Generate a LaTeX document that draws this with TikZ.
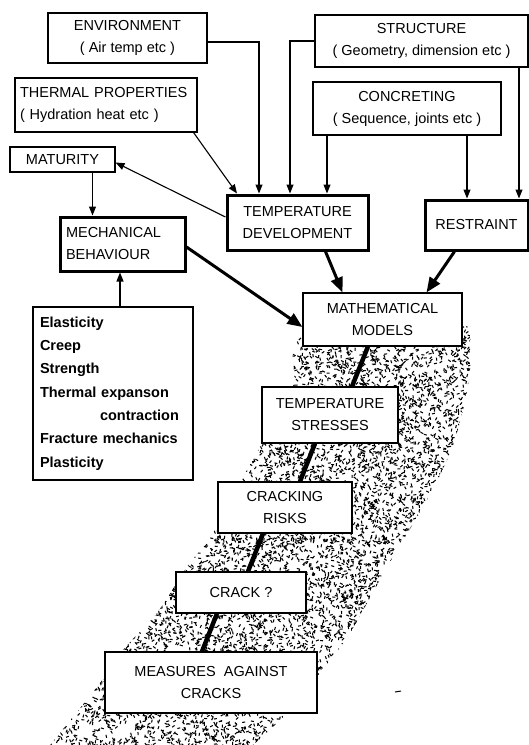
\documentclass[tikz,border=0pt]{standalone}
\usepackage{fontspec}
\setmainfont{Liberation Sans}
\usetikzlibrary{arrows.meta}
\newcommand\boxfont{\fontsize{14.5}{22}\selectfont}
\newcommand\listfont{\fontsize{14.5}{23.3}\selectfont\bfseries}
\tikzset{
  box/.style={draw, line width=1.1pt, fill=white, inner sep=0pt, align=center, font=\boxfont},
  lbox/.style={box, align=left},
  tbox/.style={box, line width=3pt},
  ar/.style={-{Triangle[length=9pt,width=7pt]}, line width=1.1pt},
  bar/.style={-{Triangle[length=15pt,width=12pt]}, line width=3pt},
  flow/.style={line width=4.5pt},
  dot/.style={line width=1.05pt}
}
\begin{document}
\begin{tikzpicture}[x=1pt,y=-1pt]
\useasboundingbox (0,0) rectangle (529,745);
% stippled band
\begin{scope}
\clip plot[smooth] coordinates {(470,326) (440,328) (303,336) (293,385) (260,447) (243,477) (213,533) (187,567) (157,613) (123,650) (97,687) (50,745)}
  -- (253,745) -- plot[smooth] coordinates {(253,745) (287,713) (320,673) (350,633) (387,567) (427,500) (450,453) (463,410) (470,370) (470,326)} -- cycle;
\pgfmathsetseed{11}
\foreach \i in {1,...,4200}{
  \pgfmathsetmacro\px{200+275*rnd}
  \pgfmathsetmacro\py{322+220*rnd}
  \pgfmathsetmacro\an{360*rnd}
  \draw[dot] (\px,\py) -- ++(\an:3pt);
}
\foreach \i in {1,...,5100}{
  \pgfmathsetmacro\px{45+355*rnd}
  \pgfmathsetmacro\py{538+210*rnd}
  \pgfmathsetmacro\an{360*rnd}
  \draw[dot] (\px,\py) -- ++(\an:3pt);
}
\end{scope}
% boxes
\node[box, minimum width=159pt, minimum height=50pt] (env) at (127.5,38) {ENVIRONMENT\\( Air temp etc )};
\node[lbox, minimum width=182pt, minimum height=54pt, text width=172pt] (therm) at (106,105) {THERMAL PROPERTIES\\( Hydration heat etc )};
\node[box, minimum width=105pt, minimum height=25pt] (mat) at (62.5,159.5) {MATURITY};
\node[box, minimum width=213pt, minimum height=52pt] (str) at (421.5,41) {STRUCTURE\\( Geometry, dimension etc )};
\node[box, minimum width=188pt, minimum height=53pt] (conc) at (407,108.5) {CONCRETING\\( Sequence, joints etc )};
\node[tbox, minimum width=141pt, minimum height=55pt] (td) at (297.5,222.5) {TEMPERATURE\\DEVELOPMENT};
\node[tbox, minimum width=103pt, minimum height=50pt] (res) at (476.5,225) {RESTRAINT};
\node[tbox, align=left, minimum width=125pt, minimum height=54pt, text width=113pt] (mech) at (122.5,244) {MECHANICAL\\BEHAVIOUR};
\node[box, align=left, font=\listfont, minimum width=160pt, minimum height=173pt, text width=146pt] (props) at (113,393.5)
  {Elasticity\\Creep\\Strength\\Thermal expanson\\\hspace*{60pt}contraction\\Fracture mechanics\\Plasticity};
\node[box, minimum width=159pt, minimum height=53pt] (mm) at (382.5,319.5) {MATHEMATICAL\\MODELS};
\node[box, minimum width=136pt, minimum height=56pt] (ts) at (330,415) {TEMPERATURE\\STRESSES};
\node[box, minimum width=134pt, minimum height=51pt] (cr) at (285,507.5) {CRACKING\\RISKS};
\node[box, minimum width=130pt, minimum height=41pt] (crack) at (241,592.5) {CRACK ?};
\node[box, minimum width=212pt, minimum height=61pt] (meas) at (211,682.5) {MEASURES\ \ AGAINST\\CRACKS};
% thin arrows
\draw[ar] ([yshift=-4pt]env.east) -| ([xshift=-38.5pt]td.north);
\draw[ar] (str.west) -| ([xshift=-7.5pt]td.north);
\draw[ar] ([xshift=-80pt]conc.south) -- ([xshift=-80pt]conc.south |- td.north);
\draw[ar] ([xshift=60pt]conc.south) -- ([xshift=60pt]conc.south |- res.north);
\draw[ar] ([xshift=97.5pt]str.south) -- ([xshift=97.5pt]str.south |- res.north);
\draw[ar] ([xshift=-4pt]therm.south east) -- ([xshift=-60.5pt]td.north);
\draw[ar] ([yshift=5.5pt]td.west) -- ([yshift=-3pt]mat.east);
\draw[ar] ([xshift=30pt]mat.south) -- ([xshift=30pt]mat.south |- mech.north);
\draw[ar] ([xshift=7pt]props.north) -- ([xshift=7pt]props.north |- mech.south);
% thick arrows
\draw[bar] ([yshift=-3pt]mech.east) -- ([yshift=-7.5pt]mm.west);
\draw[bar] ([xshift=28pt]td.south) -- ([xshift=-40pt]mm.north);
\draw[bar] ([xshift=-22pt]res.south) -- ([xshift=44pt]mm.north);
% flow lines
\draw[flow] ([xshift=-14.5pt]mm.south) -- ([xshift=22pt]ts.north);
\draw[flow] ([xshift=-15pt]ts.south) -- ([xshift=15pt]cr.north);
\draw[flow] ([xshift=-22pt]cr.south) -- ([xshift=7pt]crack.north);
\draw[flow] ([xshift=-24pt]crack.south) -- ([xshift=-9pt]meas.north);
% stray mark
\draw[line width=1pt] (395,692) -- (401,691);
\end{tikzpicture}
\end{document}
